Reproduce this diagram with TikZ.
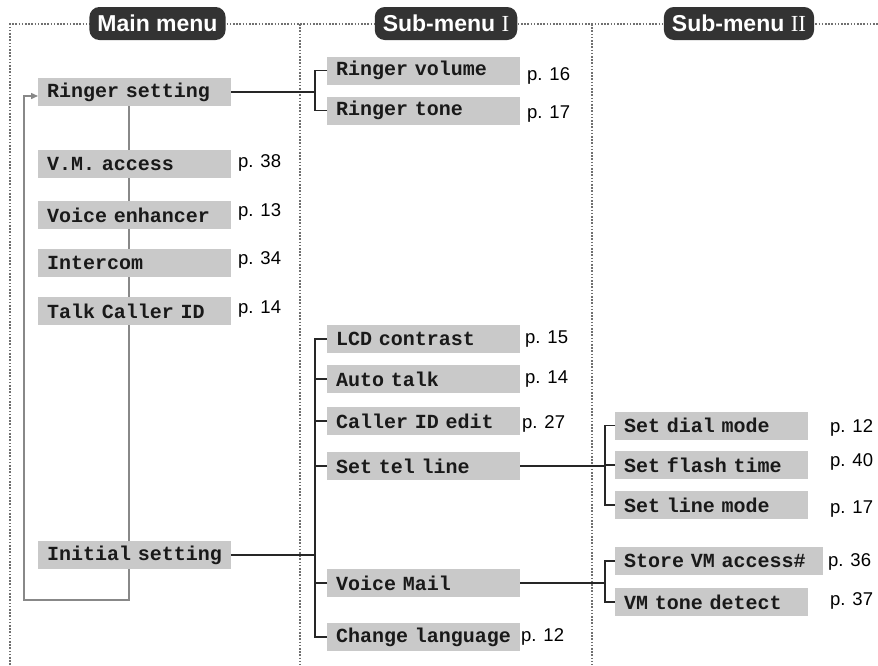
\documentclass[tikz,border=0pt]{standalone}
\usepackage{fontspec}
\setmainfont{Liberation Sans}
\newfontfamily\monofont{Liberation Mono}
\newfontfamily\serifnum{Liberation Serif}
\usetikzlibrary{arrows.meta}
\definecolor{boxgray}{HTML}{C9C9C9}
\definecolor{pillgray}{HTML}{333333}
\definecolor{loopgray}{HTML}{888888}
\definecolor{dotgray}{HTML}{707070}
\tikzset{
  mbox/.style={fill=boxgray, font=\monofont\bfseries\fontsize{20}{24}\selectfont,
    text width=175pt, inner xsep=9pt, inner ysep=0pt, minimum height=28pt,
    align=left, anchor=west, text=black!90},
  pg/.style={font=\fontsize{18.5}{20}\selectfont, anchor=base west, inner sep=0pt},
  pill/.style={fill=pillgray, text=white, rounded corners=10pt, inner xsep=8pt,
    inner ysep=0pt, minimum height=33pt, font=\bfseries\fontsize{23}{26}\selectfont},
  conn/.style={draw=black!85, line width=1.3pt},
  loopline/.style={draw=loopgray, line width=1.4pt},
  dotline/.style={draw=dotgray, line width=1.3pt, dash pattern=on 1.6pt off 1.6pt},
}
\begin{document}
\begin{tikzpicture}[x=1pt, y=-1pt]
\useasboundingbox (0,0) rectangle (878,665);
% dotted frame
\draw[dotline] (10,665) -- (10,24) -- (878,24);
\draw[dotline] (300,24) -- (300,665);
\draw[dotline] (592,24) -- (592,665);
% headers
\node[pill] (hm) at (157.5,23.5) {Main menu};
\node[pill] (h1) at (446,23.5) {Sub-menu {\serifnum\mdseries I}};
\node[pill] (h2) at (739,23.5) {Sub-menu {\serifnum\mdseries II}};
% loop coordinates
\coordinate (lb) at (129,600);
\coordinate (lc) at (24,600);
\coordinate (ld) at (24,96);
% main menu
\node[mbox] (rs) at (38,92) {Ringer setting};
\draw[loopline, -{Triangle[length=7pt,width=6pt]}] (rs.south -| lb) -- (lb) -- (lc) -- (ld) -- (ld -| rs.west);
\node[mbox] (vma) at (38,164) {V.M. access};
\node[mbox] (ve) at (38,215) {Voice enhancer};
\node[mbox] (ic) at (38,263) {Intercom};
\node[mbox] (tc) at (38,311) {Talk Caller ID};
\node[mbox] (is) at (38,555) {\mbox{Initial setting}};
\node[pg] (p1) at (238,167) {p. 38};
\node[pg] (p2) at (238,216) {p. 13};
\node[pg] (p3) at (238,264) {p. 34};
\node[pg] (p4) at (238,313) {p. 14};
% sub-menu I
\node[mbox] (rv) at (327,70.5) {Ringer volume};
\node[mbox] (rt) at (327,110.5) {Ringer tone};
\node[mbox] (lcd) at (327,339) {LCD contrast};
\node[mbox] (at) at (327,379) {Auto talk};
\node[mbox] (cid) at (327,421) {Caller ID edit};
\node[mbox] (stl) at (327,466) {Set tel line};
\node[mbox] (vm) at (327,583) {Voice Mail};
\node[mbox] (cl) at (327,637) {\mbox{Change language}};
\node[pg] (q1) at (527,80) {p. 16};
\node[pg] (q2) at (527,118) {p. 17};
\node[pg] (q3) at (525,343) {p. 15};
\node[pg] (q4) at (525,383) {p. 14};
\node[pg] (q5) at (522,428) {p. 27};
\node[pg] (q6) at (521,641) {p. 12};
% sub-menu II
\node[mbox] (sdm) at (615,425.5) {Set dial mode};
\node[mbox] (sft) at (615,465) {Set flash time};
\node[mbox] (slm) at (615,505) {Set line mode};
\node[mbox, text width=190pt] (svm) at (615,561) {\mbox{Store VM access\#}};
\node[mbox] (vtd) at (615,602) {VM tone detect};
\node[pg] (r1) at (830,432) {p. 12};
\node[pg] (r2) at (830,466) {p. 40};
\node[pg] (r3) at (830,513) {p. 17};
\node[pg] (r4) at (828,566) {p. 36};
\node[pg] (r5) at (830,605) {p. 37};
% connectors
\coordinate (j1) at (315,92);
\coordinate (j2) at (315,555);
\coordinate (j3) at (605,466);
\coordinate (j4) at (605,583);
\draw[conn] (rs.east) -- (j1);
\draw[conn] (rv.west) -| (j1) |- (rt.west);
\draw[conn] (is.east) -- (j2);
\draw[conn] (lcd.west) -| (j2) |- (cl.west);
\draw[conn] (at.west) -- (at.west -| j2);
\draw[conn] (cid.west) -- (cid.west -| j2);
\draw[conn] (stl.west) -- (stl.west -| j2);
\draw[conn] (vm.west) -- (vm.west -| j2);
\draw[conn] (stl.east) -- (j3);
\draw[conn] (sdm.west) -| (j3) |- (slm.west);
\draw[conn] (sft.west) -- (sft.west -| j3);
\draw[conn] (vm.east) -- (j4);
\draw[conn] (svm.west) -| (j4) |- (vtd.west);
\end{tikzpicture}
\end{document}
